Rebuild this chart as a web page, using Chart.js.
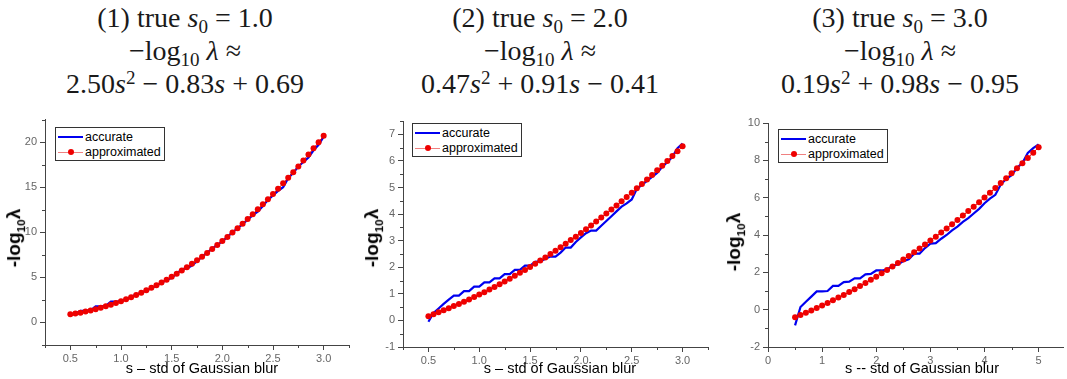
<!DOCTYPE html>
<html>
<head>
<meta charset="utf-8">
<script src="https://cdn.jsdelivr.net/npm/chart.js@4/dist/chart.umd.min.js"></script>
<style>
    body { margin: 0; background: #fff; width: 1067px; height: 379px; position: relative; overflow: hidden; font-family: "Liberation Sans", Arial, sans-serif; }
    .title { position: absolute; top: 1px; width: 340px; text-align: center; font-family: "Liberation Serif", "DejaVu Serif", serif; font-size: 28px; line-height: 33px; color: #1a1a1a; white-space: nowrap; }
    .title sub, .title sup { font-size: 0.68em; line-height: 0; vertical-align: baseline; position: relative; }
    .title sub { top: 0.3em; }
    .title sup { top: -0.45em; }
    canvas { position: absolute; }
    .ylab { position: absolute; transform: translate(-50%, -50%) rotate(-90deg); font-weight: bold; font-size: 19px; white-space: nowrap; color: #000; }
    .ylab sub { font-size: 0.62em; }
    .xlab { position: absolute; transform: translate(-50%, -50%); font-size: 14.5px; white-space: nowrap; color: #000; }
    .legend { position: absolute; border: 1px solid #333; background: #fff; font-size: 12.5px; color: #000; padding: 1px 3px 1px 2px; }
    .legend .row { display: flex; align-items: center; height: 15px; }
    .legend .swatch { position: relative; width: 25px; height: 9px; margin-right: 2px; }
    .legend .swatch .ln { position: absolute; left: 0; right: 0; top: 50%; }
    .legend .swatch .dot { position: absolute; left: 50%; top: 50%; width: 6px; height: 6px; border-radius: 50%; transform: translate(-50%, -50%); }
</style>
</head>
<body>

<div class="title" style="left:15px">(1) true <i>s</i><sub>0</sub> = 1.0<br>−log<sub>10</sub> <i>λ</i> ≈<br>2.50<i>s</i><sup>2</sup> − 0.83<i>s</i> + 0.69</div>
<div class="title" style="left:370px">(2) true <i>s</i><sub>0</sub> = 2.0<br>−log<sub>10</sub> <i>λ</i> ≈<br>0.47<i>s</i><sup>2</sup> + 0.91<i>s</i> − 0.41</div>
<div class="title" style="left:730px">(3) true <i>s</i><sub>0</sub> = 3.0<br>−log<sub>10</sub> <i>λ</i> ≈<br>0.19<i>s</i><sup>2</sup> + 0.98<i>s</i> − 0.95</div>

<canvas id="chart1" width="360" height="269" style="left:0;top:110px"></canvas>
<canvas id="chart2" width="360" height="269" style="left:360px;top:110px"></canvas>
<canvas id="chart3" width="347" height="269" style="left:720px;top:110px"></canvas>

<div class="ylab" style="left:15px;top:238px">-log<sub>10</sub>λ</div>
<div class="ylab" style="left:373px;top:238px">-log<sub>10</sub>λ</div>
<div class="ylab" style="left:735px;top:242px">-log<sub>10</sub>λ</div>

<div class="xlab" style="left:202px;top:368px">s – std of Gaussian blur</div>
<div class="xlab" style="left:560px;top:368px">s – std of Gaussian blur</div>
<div class="xlab" style="left:922px;top:368px">s -- std of Gaussian blur</div>

<div class="legend" id="legend1" style="left:55px;top:127px"></div>
<div class="legend" id="legend2" style="left:412px;top:123px"></div>
<div class="legend" id="legend3" style="left:778px;top:129px"></div>

<script>
// series names
const seriesNames = ["accurate", "approximated"];

// s values (x) for panels 1 and 2, and for panel 3
const sGrid12 = [0.50, 0.55, 0.60, 0.65, 0.70, 0.75, 0.80, 0.85, 0.90, 0.95,
    1.00, 1.05, 1.10, 1.15, 1.20, 1.25, 1.30, 1.35, 1.40, 1.45,
    1.50, 1.55, 1.60, 1.65, 1.70, 1.75, 1.80, 1.85, 1.90, 1.95,
    2.00, 2.05, 2.10, 2.15, 2.20, 2.25, 2.30, 2.35, 2.40, 2.45,
    2.50, 2.55, 2.60, 2.65, 2.70, 2.75, 2.80, 2.85, 2.90, 2.95, 3.00];
const sGrid3 = [0.5, 0.6, 0.7, 0.8, 0.9, 1.0, 1.1, 1.2, 1.3, 1.4,
    1.5, 1.6, 1.7, 1.8, 1.9, 2.0, 2.1, 2.2, 2.3, 2.4,
    2.5, 2.6, 2.7, 2.8, 2.9, 3.0, 3.1, 3.2, 3.3, 3.4,
    3.5, 3.6, 3.7, 3.8, 3.9, 4.0, 4.1, 4.2, 4.3, 4.4,
    4.5, 4.6, 4.7, 4.8, 4.9, 5.0];

// panel 1 (true s0 = 1.0)
const accurate1 = [0.85, 1.00, 1.30, 1.30, 1.35, 1.80, 1.80, 1.85, 2.30, 2.30,
    2.40, 2.60, 2.85, 3.10, 3.30, 3.55, 3.80, 4.10, 4.40, 4.70,
    4.95, 5.40, 5.90, 6.00, 6.30, 6.80, 7.30, 7.75, 8.20, 8.60,
    9.00, 9.50, 10.00, 10.45, 10.90, 11.40, 11.90, 12.30, 12.90, 13.60,
    14.10, 14.60, 15.00, 16.00, 16.60, 17.30, 17.80, 18.30, 19.10, 19.70, 20.60];
const approx1 = [0.90, 0.99, 1.09, 1.21, 1.33, 1.47, 1.63, 1.79, 1.97, 2.16,
    2.36, 2.57, 2.80, 3.04, 3.29, 3.56, 3.84, 4.13, 4.43, 4.74,
    5.07, 5.41, 5.76, 6.13, 6.50, 6.89, 7.30, 7.71, 8.14, 8.58,
    9.03, 9.49, 9.97, 10.46, 10.96, 11.48, 12.01, 12.55, 13.10, 13.66,
    14.24, 14.83, 15.43, 16.05, 16.67, 17.31, 17.97, 18.63, 19.31, 20.00, 20.70];

// panel 2 (true s0 = 2.0)
const accurate2 = [-0.05, 0.28, 0.45, 0.62, 0.78, 0.93, 0.93, 1.10, 1.10, 1.27,
    1.27, 1.43, 1.43, 1.58, 1.58, 1.74, 1.74, 1.90, 1.90, 2.06,
    2.06, 2.20, 2.22, 2.32, 2.40, 2.40, 2.55, 2.74, 2.74, 2.95,
    3.12, 3.28, 3.38, 3.38, 3.56, 3.74, 3.92, 4.10, 4.28, 4.40,
    4.55, 4.95, 5.10, 5.25, 5.40, 5.55, 5.78, 5.95, 6.15, 6.48, 6.65];
const approx2 = [0.16, 0.23, 0.31, 0.38, 0.46, 0.54, 0.62, 0.70, 0.79, 0.88,
    0.97, 1.06, 1.16, 1.26, 1.36, 1.46, 1.57, 1.68, 1.79, 1.90,
    2.01, 2.13, 2.25, 2.37, 2.50, 2.62, 2.75, 2.88, 3.02, 3.15,
    3.29, 3.43, 3.57, 3.72, 3.87, 4.02, 4.17, 4.32, 4.48, 4.64,
    4.80, 4.97, 5.13, 5.30, 5.47, 5.65, 5.82, 6.00, 6.18, 6.36, 6.55];

// panel 3 (true s0 = 3.0)
const accurate3 = [-0.84, 0.14, 0.42, 0.70, 0.98, 0.98, 1.00, 1.27, 1.27, 1.48,
    1.50, 1.68, 1.68, 1.89, 1.92, 2.10, 2.10, 2.15, 2.35, 2.42,
    2.60, 2.70, 3.00, 3.00, 3.30, 3.54, 3.56, 3.80, 4.00, 4.25,
    4.45, 4.70, 4.90, 5.15, 5.40, 5.70, 5.95, 6.15, 6.70, 7.00,
    7.20, 7.60, 7.85, 8.40, 8.65, 8.86];
const approx3 = [-0.41, -0.29, -0.17, -0.04, 0.09, 0.22, 0.36, 0.50, 0.65, 0.79,
    0.95, 1.10, 1.27, 1.43, 1.60, 1.77, 1.95, 2.13, 2.31, 2.50,
    2.69, 2.88, 3.08, 3.28, 3.49, 3.70, 3.91, 4.13, 4.35, 4.58,
    4.81, 5.04, 5.28, 5.52, 5.76, 6.01, 6.26, 6.52, 6.78, 7.04,
    7.31, 7.58, 7.85, 8.13, 8.41, 8.70];

// axis ticks
const xTicks12 = [0.5, 1.0, 1.5, 2.0, 2.5, 3.0];
const xMinor12 = [0.25, 0.75, 1.25, 1.75, 2.25, 2.75, 3.25];
const xTicks3 = [0, 1, 2, 3, 4, 5];
const xMinor3 = [0.5, 1.5, 2.5, 3.5, 4.5];
const yTicks1 = [0, 5, 10, 15, 20];
const yMinor1 = [-2.5, 2.5, 7.5, 12.5, 17.5, 22.5];
const yTicks2 = [-1, 0, 1, 2, 3, 4, 5, 6, 7];
const yMinor2 = [-0.5, 0.5, 1.5, 2.5, 3.5, 4.5, 5.5, 6.5, 7.5];
const yTicks3 = [-2, 0, 2, 4, 6, 8, 10];
const yMinor3 = [-1, 1, 3, 5, 7, 9];

const BLUE = "#0000f0";
const RED = "#ee0000";
const AXIS = "#444";

// short minor tick marks, placed through the chart's own scales
const minorTicks = {
    id: "minorTicks",
    afterDraw(chart, args, opts) {
        const ctx = chart.ctx;
        const xs = chart.scales.x, ys = chart.scales.y;
        ctx.save();
        ctx.strokeStyle = AXIS;
        ctx.lineWidth = 1;
        ctx.beginPath();
        opts.x.forEach(v => {
            const px = Math.round(xs.getPixelForValue(v)) + 0.5;
            ctx.moveTo(px, xs.top);
            ctx.lineTo(px, xs.top + 3);
        });
        opts.y.forEach(v => {
            const py = Math.round(ys.getPixelForValue(v)) + 0.5;
            ctx.moveTo(ys.right, py);
            ctx.lineTo(ys.right - 3, py);
        });
        ctx.stroke();
        ctx.restore();
    }
};

function toPoints(xs, ys) {
    return xs.map((x, i) => ({ x: x, y: ys[i] }));
}

function makeChart(id, cfg) {
    const ctx = document.getElementById(id).getContext("2d");
    return new Chart(ctx, {
        type: "scatter",
        data: {
            datasets: [{
                label: seriesNames[0],
                data: toPoints(cfg.s, cfg.accurate),
                showLine: true,
                borderColor: BLUE,
                borderWidth: 2.2,
                pointRadius: 0,
                tension: 0,
                order: 2
            }, {
                label: seriesNames[1],
                data: toPoints(cfg.s, cfg.approx),
                showLine: true,
                borderColor: RED,
                borderWidth: 1,
                backgroundColor: RED,
                pointBackgroundColor: RED,
                pointBorderColor: RED,
                pointRadius: 3,
                pointBorderWidth: 0,
                tension: 0,
                order: 1
            }]
        },
        options: {
            responsive: false,
            animation: false,
            devicePixelRatio: 1,
            layout: { padding: cfg.padding },
            plugins: {
                legend: { display: false },
                tooltip: { enabled: false },
                minorTicks: { x: cfg.xMinor, y: cfg.yMinor }
            },
            scales: {
                x: {
                    type: "linear",
                    min: cfg.xMin,
                    max: cfg.xMax,
                    afterBuildTicks: (scale) => { scale.ticks = cfg.xTicks.map(v => ({ value: v })); },
                    afterFit: (scale) => { scale.height = cfg.xHeight; },
                    grid: { drawOnChartArea: false, drawTicks: true, tickLength: 5, color: AXIS, tickColor: AXIS },
                    border: { display: true, color: AXIS, width: 1 },
                    ticks: {
                        color: "#666",
                        padding: 2,
                        font: { family: "Liberation Sans", size: 11 },
                        callback: cfg.xFormat
                    }
                },
                y: {
                    type: "linear",
                    min: cfg.yMin,
                    max: cfg.yMax,
                    afterBuildTicks: (scale) => { scale.ticks = cfg.yTicks.map(v => ({ value: v })); },
                    afterFit: (scale) => { scale.width = cfg.yWidth; },
                    grid: { drawOnChartArea: false, drawTicks: true, tickLength: 5, color: AXIS, tickColor: AXIS },
                    border: { display: true, color: AXIS, width: 1 },
                    ticks: {
                        color: "#666",
                        padding: 3,
                        font: { family: "Liberation Sans", size: 11 },
                        callback: (v) => String(v)
                    }
                }
            }
        },
        plugins: [minorTicks]
    });
}

function buildLegend(id) {
    const el = document.getElementById(id);
    el.innerHTML =
        `<div class="row"><span class="swatch"><span class="ln" style="border-top:2px solid ${BLUE};margin-top:-1px"></span></span>${seriesNames[0]}</div>` +
        `<div class="row"><span class="swatch"><span class="ln" style="border-top:1px solid #f08080"></span><span class="dot" style="background:${RED}"></span></span>${seriesNames[1]}</div>`;
}

const oneDecimal = (v) => v.toFixed(1);

makeChart("chart1", {
    s: sGrid12, accurate: accurate1, approx: approx1,
    xMin: 0.25, xMax: 3.25, yMin: -2.5, yMax: 22.5,
    xTicks: xTicks12, xMinor: xMinor12, yTicks: yTicks1, yMinor: yMinor1,
    xFormat: oneDecimal,
    padding: { top: 9, right: 11, left: 0, bottom: 0 },
    yWidth: 45, xHeight: 34
});

makeChart("chart2", {
    s: sGrid12, accurate: accurate2, approx: approx2,
    xMin: 0.25, xMax: 3.25, yMin: -1, yMax: 7.5,
    xTicks: xTicks12, xMinor: xMinor12, yTicks: yTicks2, yMinor: yMinor2,
    xFormat: oneDecimal,
    padding: { top: 11, right: 12, left: 0, bottom: 0 },
    yWidth: 43, xHeight: 32
});

makeChart("chart3", {
    s: sGrid3, accurate: accurate3, approx: approx3,
    xMin: 0, xMax: 5.45, yMin: -2, yMax: 10,
    xTicks: xTicks3, xMinor: xMinor3, yTicks: yTicks3, yMinor: yMinor3,
    xFormat: (v) => String(v),
    padding: { top: 13, right: 0, left: 0, bottom: 0 },
    yWidth: 48, xHeight: 32
});

buildLegend("legend1");
buildLegend("legend2");
buildLegend("legend3");
</script>
</body>
</html>
